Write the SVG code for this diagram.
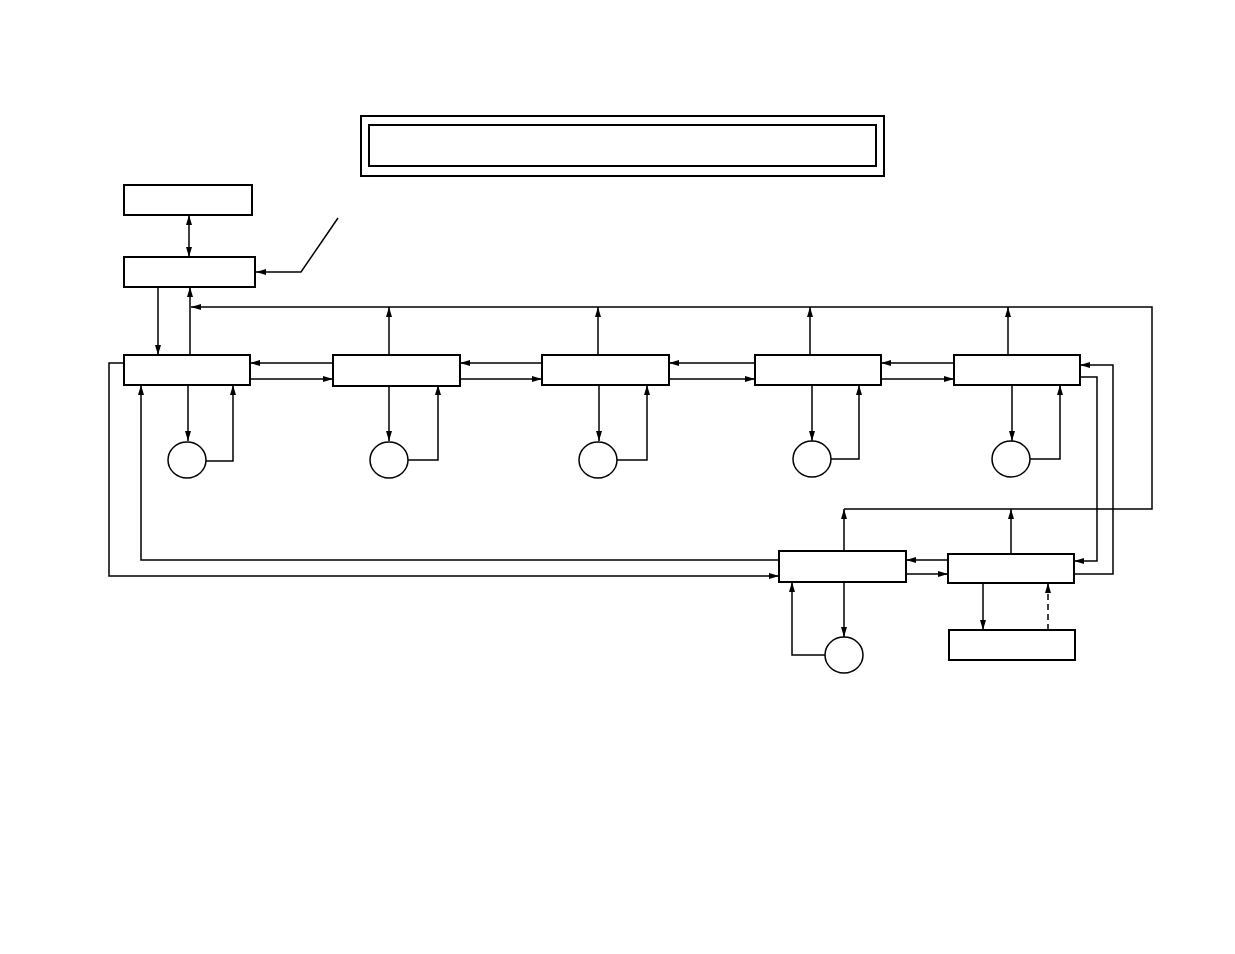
<svg xmlns="http://www.w3.org/2000/svg" width="1235" height="954" viewBox="0 0 1235 954">
<style>
.box{fill:#fff;stroke:#000;stroke-width:2}
.c{fill:#fff;stroke:#000;stroke-width:1.5}
.ln{fill:none;stroke:#000;stroke-width:1.5}
.a{marker-end:url(#ah)}
.d{stroke-dasharray:6,4}
</style>
<defs>
<marker id="ah" viewBox="0 0 10 6" refX="10" refY="3" markerWidth="10" markerHeight="6" markerUnits="userSpaceOnUse" orient="auto-start-reverse">
<path d="M0,0 L10,3 L0,6 z" fill="#000"/>
</marker>
</defs>
<rect width="1235" height="954" fill="#fff"/>
<g id="title">
<rect x="361" y="116" width="523" height="60" class="box" stroke-width="2.5"/>
<rect x="369" y="125" width="507" height="41" class="box" stroke-width="2.5"/>
</g>
<g id="connectors">
<path class="ln a" d="M189,215 V257" marker-start="url(#ah)"/>
<path class="ln a" d="M338,218 L301,272 H256"/>
<path class="ln a" d="M158,287 V355"/>
<path class="ln a" d="M190,355 V287"/>
<path class="ln a" d="M844,551 V509"/>
<path class="ln a" d="M1011,554 V509"/>
<path class="ln a" d="M844,509 H1152 V307 H191"/>
<path class="ln a" d="M389,355 V307"/>
<path class="ln a" d="M598,355 V307"/>
<path class="ln a" d="M810,355 V307"/>
<path class="ln a" d="M1008,355 V307"/>
<path class="ln a" d="M333,363 H250"/>
<path class="ln a" d="M250,379 H333" stroke-width="2"/>
<path class="ln a" d="M542,363 H460"/>
<path class="ln a" d="M460,379 H542"/>
<path class="ln a" d="M755,363 H669"/>
<path class="ln a" d="M669,379 H755" stroke-width="2"/>
<path class="ln a" d="M954,363 H881"/>
<path class="ln a" d="M881,379 H954" stroke-width="2"/>
<path class="ln a" d="M188,385 V441"/>
<path class="ln a" d="M206,461 H233 V385"/>
<path class="ln a" d="M389,385 V441"/>
<path class="ln a" d="M408,460 H438 V385"/>
<path class="ln a" d="M599,385 V441"/>
<path class="ln a" d="M617,460 H647 V385"/>
<path class="ln a" d="M812,385 V441"/>
<path class="ln a" d="M831,459 H859 V385"/>
<path class="ln a" d="M1012,385 V441"/>
<path class="ln a" d="M1030,459 H1060 V385"/>
<path class="ln a" d="M1080,377 H1097 V561 H1074"/>
<path class="ln a" d="M1074,574 H1113 V365 H1080" stroke-width="2"/>
<path class="ln a" d="M948,560 H906"/>
<path class="ln a" d="M906,574 H948" stroke-width="2"/>
<path class="ln a" d="M844,582 V637"/>
<path class="ln a" d="M825,655 H792 V582"/>
<path class="ln a" d="M983,583 V630"/>
<path class="ln a d" d="M1048,630 V583"/>
<path class="ln a" d="M779,560 H141 V385" stroke-width="2"/>
<path class="ln a" d="M124,363 H109 V576 H779"/>
</g>
<g id="n1"><rect x="124" y="185" width="128" height="30" class="box" stroke-width="1.5"/></g>
<g id="n2"><rect x="124" y="257" width="131" height="30" class="box" stroke-width="1.5"/></g>
<g id="nA"><rect x="124" y="355" width="126" height="30" class="box"/></g>
<g id="nB"><rect x="333" y="355" width="127" height="31" class="box"/></g>
<g id="nC"><rect x="542" y="355" width="127" height="30" class="box"/></g>
<g id="nD"><rect x="755" y="355" width="126" height="30" class="box"/></g>
<g id="nE"><rect x="954" y="355" width="126" height="30" class="box" stroke-width="1.5"/></g>
<g id="nF"><rect x="948" y="554" width="126" height="29" class="box"/></g>
<g id="nG"><rect x="779" y="551" width="127" height="31" class="box"/></g>
<g id="nH"><rect x="949" y="630" width="126" height="30" class="box" stroke-width="1.5"/></g>
<g id="cA"><ellipse cx="187" cy="460" rx="19" ry="18" class="c"/></g>
<g id="cB"><ellipse cx="389" cy="460" rx="19" ry="18" class="c"/></g>
<g id="cC"><ellipse cx="598" cy="460" rx="19" ry="18" class="c"/></g>
<g id="cD"><ellipse cx="812" cy="459" rx="19" ry="18" class="c"/></g>
<g id="cE"><ellipse cx="1011" cy="459" rx="19" ry="18" class="c"/></g>
<g id="cG"><ellipse cx="844" cy="655" rx="19" ry="18" class="c"/></g>
</svg>
